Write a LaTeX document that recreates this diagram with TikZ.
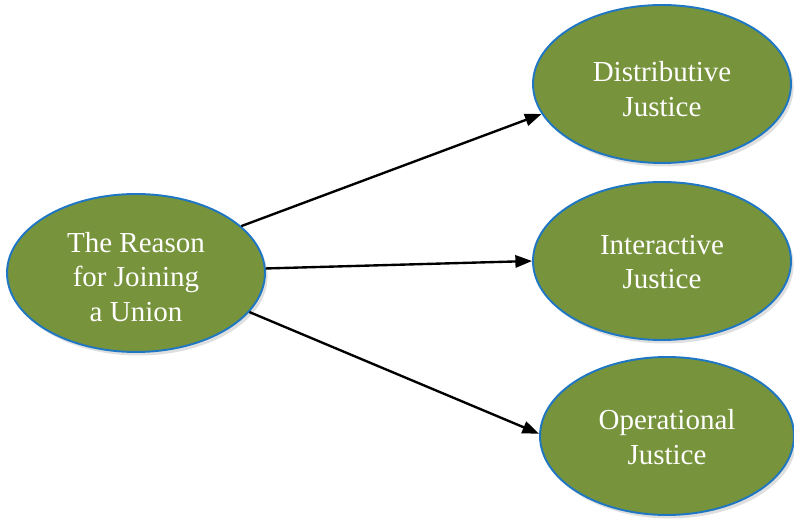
\documentclass[tikz,border=0pt]{standalone}
\usepackage{fontspec}
\setmainfont{Liberation Serif}
\usetikzlibrary{arrows.meta,shadows,shapes.geometric}
\definecolor{olivefill}{HTML}{77933C}
\definecolor{rimblue}{HTML}{1F77C4}
\tikzset{
  oval/.style={ellipse, draw=rimblue, line width=1.1pt, fill=olivefill,
    minimum width=5.16cm, minimum height=3.16cm, inner sep=0pt,
    drop shadow={opacity=0.25, shadow xshift=1.5pt, shadow yshift=-2pt}},
  lbl/.style={text=white, align=center, inner sep=0pt,
    font=\fontsize{16.5}{19.5}\selectfont},
  link/.style={draw=black, line width=1.35pt, -{Triangle[length=9.5pt,width=7pt]}}
}
\begin{document}
\begin{tikzpicture}[x=0.02cm,y=-0.02cm]
\useasboundingbox (0,0) rectangle (794,519);
\node[oval] (src) at (136,273) {};
\node[oval] (dist) at (662,84) {};
\node[oval] (inter) at (662,261) {};
\node[oval, minimum width=5.08cm] (oper) at (667,436) {};
\node[lbl] (srct) at (136,277) {The Reason\\for Joining\\a Union};
\node[lbl] (distt) at (662,89) {Distributive\\Justice};
\node[lbl] (intert) at (662,262) {Interactive\\Justice};
\node[lbl] (opert) at (667,437) {Operational\\Justice};
\draw[link] (src.24) -- (dist.194);
\draw[link] (src.2) -- (inter.180);
\draw[link] (src.341) -- (oper.179);
\end{tikzpicture}
\end{document}
